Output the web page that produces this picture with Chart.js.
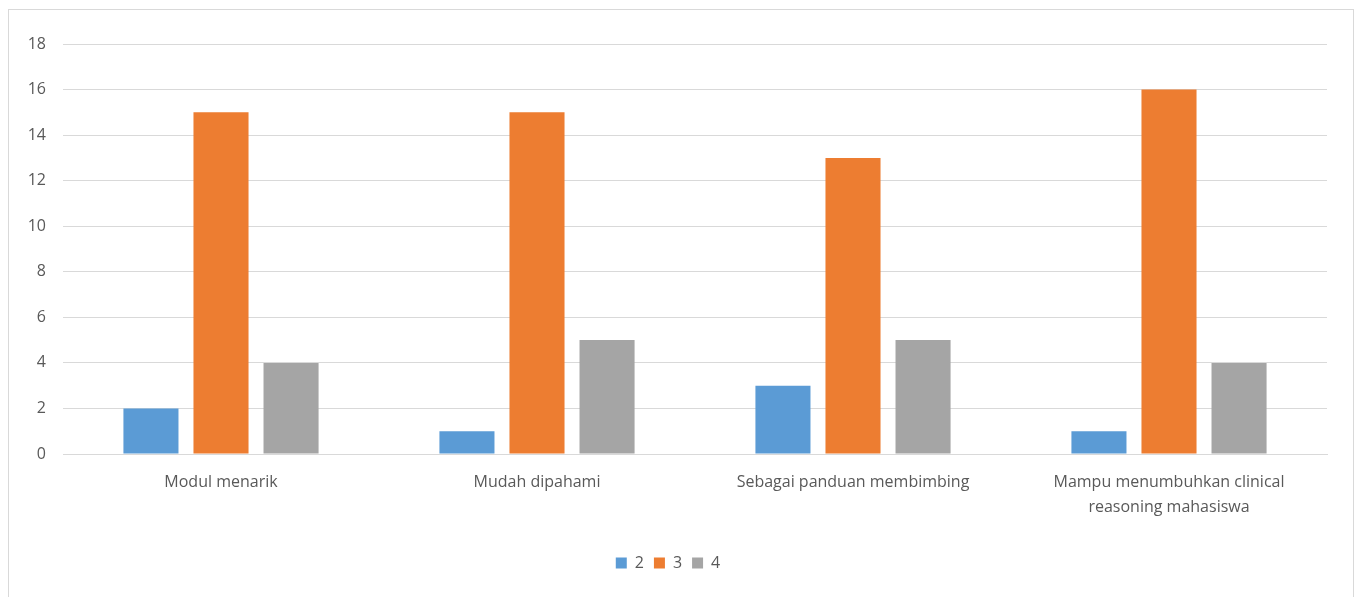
<!DOCTYPE html>
<html>
<head>
<meta charset="utf-8">
<script src="https://cdn.jsdelivr.net/npm/chart.js@4"></script>
<style>
  html, body { margin: 0; padding: 0; background: #fff; overflow: hidden; }
  #box {
    position: absolute; left: 8px; top: 9px;
    width: 1344px; height: 598px;
    border: 1px solid #d9d9d9;
  }
</style>
</head>
<body>
<div id="box"><canvas id="graph"></canvas></div>
<script>
const categories = [
    "Modul menarik",
    "Mudah dipahami",
    "Sebagai panduan membimbing",
    ["Mampu menumbuhkan clinical", "reasoning mahasiswa"],
]
const seriesNames = ["2", "3", "4"]
const values2 = [2, 1, 3, 1]
const values3 = [15, 15, 13, 16]
const values4 = [4, 5, 5, 4]
const yTicks = [0, 2, 4, 6, 8, 10, 12, 14, 16, 18]

const graph = document.getElementById("graph").getContext("2d")
const textColor = '#595959'
const font = { family: "'Open Sans', sans-serif", size: 16 }

const data = {
    labels: categories,
    datasets: [
        { label: seriesNames[0], data: values2, backgroundColor: '#5B9BD5' },
        { label: seriesNames[1], data: values3, backgroundColor: '#ED7D31' },
        { label: seriesNames[2], data: values4, backgroundColor: '#A5A5A5' },
    ],
}

const config = {
    type: 'bar',
    data: data,
    options: {
        responsive: true,
        maintainAspectRatio: false,
        animation: false,
        layout: { padding: { top: 34, right: 26, bottom: 27, left: 0 } },
        datasets: { bar: { barPercentage: 0.786, categoryPercentage: 0.665 } },
        plugins: {
            tooltip: { enabled: false },
            legend: {
                position: 'bottom',
                labels: {
                    color: textColor, font: font,
                    boxWidth: 11, boxHeight: 11, padding: 10,
                },
            },
        },
        scales: {
            x: {
                grid: { display: false, drawTicks: false },
                border: { display: true, color: '#d9d9d9' },
                ticks: {
                    color: textColor, font: { ...font, lineHeight: 1.55 },
                    padding: 16, maxRotation: 0, autoSkip: false,
                },
                afterFit: (s) => { s.height = 91 },
            },
            y: {
                min: 0,
                max: 18,
                afterBuildTicks: (s) => { s.ticks = yTicks.map(v => ({ value: v })) },
                grid: { color: '#d9d9d9', drawTicks: false },
                border: { display: false },
                ticks: { color: textColor, font: font, padding: 17 },
                afterFit: (s) => { s.width = 54 },
            },
        },
    },
}

let myChart = new Chart(graph, config)
</script>
</body>
</html>
